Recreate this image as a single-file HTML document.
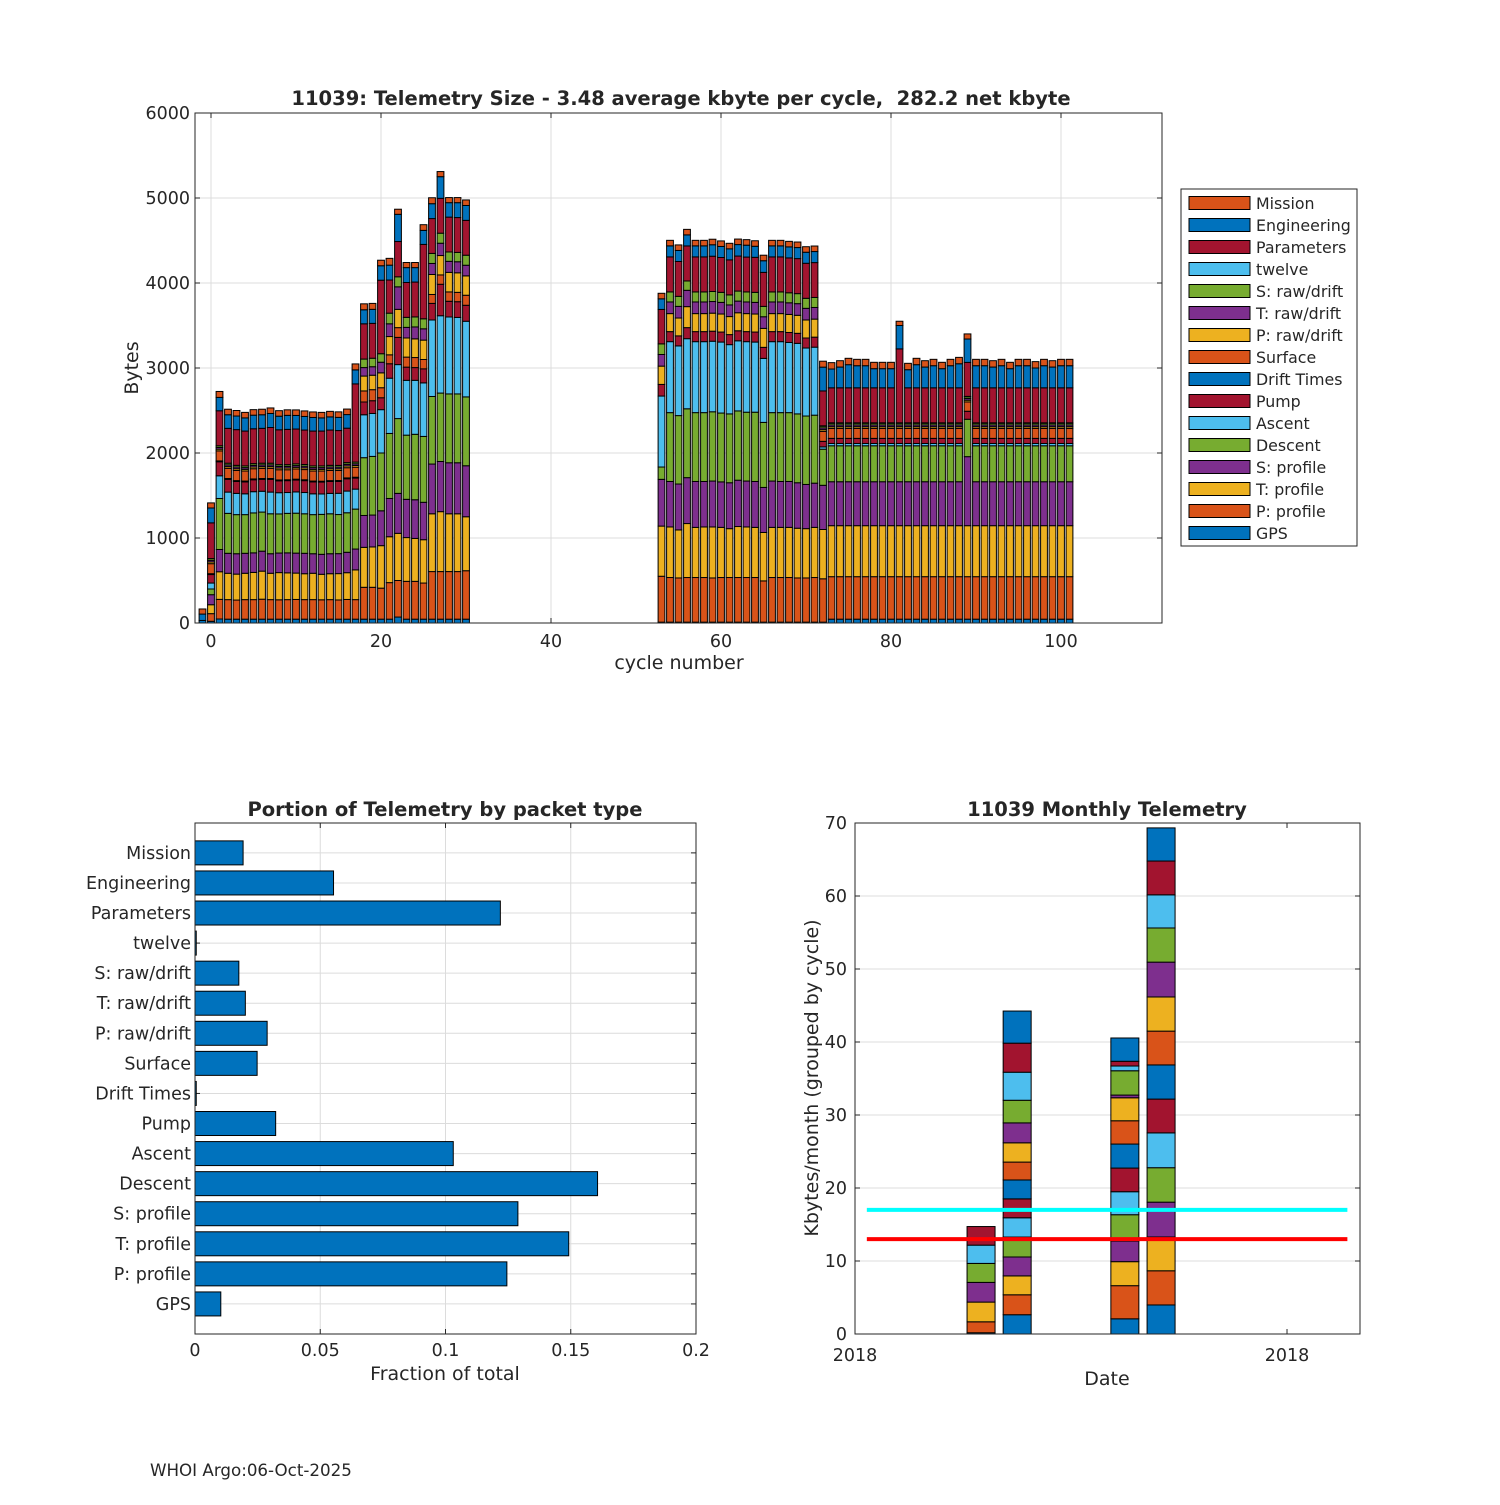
<!DOCTYPE html>
<html><head><meta charset="utf-8"><style>
html,body{margin:0;padding:0;background:#fff}
svg text{font-family:"DejaVu Sans","Liberation Sans",sans-serif;fill:#262626}
</style></head><body>
<svg id="fig" xmlns="http://www.w3.org/2000/svg" width="1500" height="1500" viewBox="0 0 1500 1500">
<rect x="0" y="0" width="1500" height="1500" fill="#fff"/>
<g id="top"></g>
<g id="bl"></g>
<g id="br"></g>
<text x="150" y="1476" font-size="16.7">WHOI Argo:06-Oct-2025</text>
</svg>
<script>
// ---------- TOP CHART DATA ----------
const cycles = [-1,0,1,2,3,4,5,6,7,8,9,10,11,12,13,14,15,16,17,18,19,20,21,22,23,24,25,26,27,28,29,30,
53,54,55,56,57,58,59,60,61,62,63,64,65,66,67,68,69,70,71,
72,73,74,75,76,77,78,79,80,81,82,83,84,85,86,87,88,89,90,91,92,93,94,95,96,97,98,99,100,101];
const seriesNames = ["GPS","P: profile","T: profile","S: profile","Descent","Ascent","Pump","Drift Times","Surface","P: raw/drift","T: raw/drift","S: raw/drift","twelve","Parameters","Engineering","Mission"];
const seriesColors = ["#0072BD","#D95319","#EDB120","#7E2F8E","#77AC30","#4DBEEE","#A2142F","#0072BD","#D95319","#EDB120","#7E2F8E","#77AC30","#4DBEEE","#A2142F","#0072BD","#D95319"];
const gps = [30,20,47,45,45,45,45,45,45,45,45,45,45,45,45,45,45,45,45,45,45,45,45,70,45,45,45,45,45,45,45,45,
10,10,10,10,10,10,10,10,10,10,10,10,10,10,10,10,10,10,10,
10,45,45,45,45,45,45,45,45,45,45,45,45,45,45,45,45,45,45,45,45,45,45,45,45,45,45,45,45,45];
const pProfile = [0,90,231,230,225,230,230,235,230,228,230,232,230,230,228,230,226,232,230,375,375,365,430,430,445,445,425,560,560,560,560,570,
540,525,520,525,525,525,520,525,525,525,525,525,485,525,525,525,520,520,525,
510,500,500,500,500,500,500,500,500,500,500,500,500,500,500,500,500,500,500,500,500,500,500,500,500,500,500,500,500,500];
const tProfile = [0,105,325,310,305,310,320,330,310,320,315,310,305,310,300,305,310,315,350,470,475,500,540,555,515,505,510,680,705,680,680,635,
590,595,565,635,590,595,600,590,575,600,595,590,570,590,590,590,585,580,590,
580,600,600,600,600,600,600,600,600,600,600,600,600,600,600,600,600,600,600,600,600,600,600,600,600,600,600,600,600,600];
const sProfile = [0,118,262,235,240,235,230,235,230,230,235,235,240,230,235,235,235,240,245,375,375,410,450,470,450,455,440,585,590,600,600,600,
550,535,540,540,540,535,540,535,540,545,540,540,530,545,540,540,535,520,520,
520,517,517,517,517,517,517,517,517,517,517,517,517,517,517,517,517,812,517,517,517,517,517,517,517,517,517,517,517,517];
const descent = [0,67,600,470,460,455,470,460,470,460,465,470,465,460,470,470,460,465,470,680,690,680,765,880,755,770,775,795,805,810,810,810,
145,810,805,810,810,810,815,810,810,815,810,815,765,805,810,810,810,805,800,
425,423,423,423,423,423,423,423,423,423,423,423,423,423,423,423,423,440,423,423,423,423,423,423,423,423,423,423,423,423];
const ascent = [0,70,267,250,250,245,250,245,255,250,245,250,250,245,240,240,250,255,235,505,505,510,650,635,645,635,630,900,910,905,900,890,
835,835,820,825,835,835,830,835,815,825,830,825,753,835,835,825,830,800,800,
27,27,27,27,27,27,27,27,27,27,27,27,27,27,27,27,27,0,27,27,27,27,27,27,27,27,27,27,27,27];
const pump = [0,100,165,150,140,140,140,140,150,140,140,140,140,140,140,140,140,145,130,150,150,140,170,320,155,150,165,195,370,185,185,188,
137,118,118,130,118,118,118,118,118,118,118,118,130,118,118,118,118,118,118,
65,60,60,60,60,60,60,60,60,60,60,60,60,60,60,60,60,94,60,60,60,60,60,60,60,60,60,60,60,60];
const driftTimes = [0,10,10,10,10,10,10,10,10,10,10,10,10,10,10,10,10,10,10,0,0,0,0,0,0,0,0,0,0,0,0,0,
0,0,0,0,0,0,0,0,0,0,0,0,0,0,0,0,0,0,0,
0,0,0,0,0,0,0,0,0,0,0,0,0,0,0,0,0,0,0,0,0,0,0,0,0,0,0,0,0,0];
const surface = [0,118,118,120,120,118,120,120,120,120,118,120,120,118,120,120,118,120,118,130,130,118,105,115,118,118,110,105,110,110,110,118,
0,0,0,0,0,0,0,0,0,0,0,0,0,0,0,0,0,0,0,
118,118,118,118,118,118,118,118,118,118,118,118,118,118,118,118,118,110,118,118,118,118,118,118,118,118,118,118,118,118];
const pRaw = [0,20,20,20,20,20,20,20,20,20,20,20,20,20,20,20,20,20,20,175,170,175,215,215,225,220,228,235,228,230,230,228,
215,212,210,247,212,212,212,212,212,212,212,212,223,212,212,212,212,212,212,
20,20,20,20,20,20,20,20,20,20,20,20,20,20,20,20,20,20,20,20,20,20,20,20,20,20,20,20,20,20];
const tRaw = [0,20,20,20,20,20,20,20,20,20,20,20,20,20,20,20,20,20,20,100,100,125,150,265,125,140,133,130,145,130,130,125,
137,137,137,192,137,137,137,137,137,137,137,137,137,137,137,137,137,137,137,
20,20,20,20,20,20,20,20,20,20,20,20,20,20,20,20,20,20,20,20,20,20,20,20,20,20,20,20,20,20];
const sRaw = [0,20,20,20,20,20,20,20,20,20,20,20,20,20,20,20,20,20,20,100,100,100,125,118,118,118,118,118,118,110,110,118,
125,118,118,110,118,118,118,118,118,118,118,118,122,118,118,118,118,118,118,
20,20,20,20,20,20,20,20,20,20,20,20,20,20,20,20,20,20,20,20,20,20,20,20,20,20,20,20,20,20];
const twelve = [0,0,0,0,0,0,0,0,0,0,0,0,0,0,0,0,0,0,0,0,0,0,0,0,0,0,0,0,0,0,0,0,
0,0,0,0,0,0,0,0,0,0,0,0,0,0,0,0,0,0,0,
5,5,5,5,5,5,5,5,5,5,5,5,5,5,5,5,5,5,5,5,5,5,5,5,5,5,5,5,5,5];
const parameters = [0,420,412,410,420,410,410,410,420,410,415,410,405,410,410,415,410,405,920,415,410,865,390,415,410,410,875,410,410,410,410,410,
405,412,410,412,412,412,415,410,412,412,410,412,400,412,412,410,412,412,410,
410,412,412,412,412,412,412,412,412,870,412,412,412,412,412,412,412,400,412,412,412,412,412,412,412,412,412,412,412,412];
const engineering = [75,175,157,160,160,155,160,160,165,160,165,160,160,160,155,155,155,160,165,165,165,170,175,320,175,170,165,175,255,170,175,175,
125,130,130,130,130,130,135,130,130,135,140,130,137,130,130,130,130,130,130,
280,221,244,272,260,260,225,225,225,275,213,272,244,260,225,260,283,275,260,260,244,260,225,260,260,233,260,244,260,260];
const mission = [60,60,70,65,65,65,65,65,65,65,65,65,65,65,65,65,65,65,70,70,70,65,80,60,60,60,67,70,60,60,60,65,
65,65,65,65,65,65,65,65,65,65,65,65,65,65,65,65,65,65,65,
70,75,75,75,75,75,75,75,75,50,75,75,75,75,75,75,75,60,75,75,75,75,75,75,75,75,75,75,75,75];
const stackSeries = [gps,pProfile,tProfile,sProfile,descent,ascent,pump,driftTimes,surface,pRaw,tRaw,sRaw,twelve,parameters,engineering,mission];
const topYTicks = [0,1000,2000,3000,4000,5000,6000];
const topXTicks = [0,20,40,60,80,100];

// ---------- BOTTOM LEFT DATA ----------
const packetTypes = ["GPS","P: profile","T: profile","S: profile","Descent","Ascent","Pump","Drift Times","Surface","P: raw/drift","T: raw/drift","S: raw/drift","twelve","Parameters","Engineering","Mission"];
const fractions = [0.0103,0.1245,0.1492,0.1289,0.1607,0.1031,0.0322,0.0005,0.0248,0.0288,0.0201,0.0175,0.0005,0.1219,0.0553,0.0192];
const fracTicks = [0,0.05,0.1,0.15,0.2];
const fracTickLabels = ["0","0.05","0.1","0.15","0.2"];

// ---------- BOTTOM RIGHT DATA ----------
const monthDays = [106.5,137,228,258.6];
const monthSegments = [
 [0.17,1.5,2.7,2.7,2.6,2.5,2.55],
 [2.64,2.73,2.59,2.59,2.73,2.64,2.59,2.59,2.45,2.64,2.73,3.10,3.84,3.98,4.40],
 [2.08,4.54,3.29,2.82,3.61,3.15,3.24,3.29,3.19,3.15,0.37,3.33,0.65,0.65,3.19],
 [3.98,4.68,4.63,4.77,4.72,4.77,4.63,4.68,4.63,4.68,4.77,4.68,4.54,4.63,4.54]
];
const segColors = ["#0072BD","#D95319","#EDB120","#7E2F8E","#77AC30","#4DBEEE","#A2142F"];
const monthlyYTicks = [0,10,20,30,40,50,60,70];
const dateTicks = [0,365];
const dateTickLabels = ["2018","2018"];
const meanLine = [17];
const medianLine = [13];

const NS="http://www.w3.org/2000/svg";
const TF=17.5, TT=19.5, AT=19;
function mk(parent,tag,attrs,text){const e=document.createElementNS(NS,tag);for(const k in attrs)e.setAttribute(k,attrs[k]);if(text!==undefined)e.textContent=text;parent.appendChild(e);return e;}

// ---------- TOP ----------
(function(){
 const g=document.getElementById('top');
 const L=195,R=1162,T=113,B=623;
 const xs=c=>211+c*8.5, ys=v=>B-v*0.085;
 mk(g,'rect',{x:L,y:T,width:R-L,height:B-T,fill:'#fff'});
 topYTicks.forEach(v=>{const y=ys(v);
  const ln=mk(g,'line',{x1:L,x2:R,y1:y,y2:y,stroke:'#dcdcdc','stroke-width':1});
  
  mk(g,'line',{x1:L,x2:L+5,y1:y,y2:y,stroke:'#262626'});mk(g,'line',{x1:R,x2:R-5,y1:y,y2:y,stroke:'#262626'});
  const t=mk(g,'text',{x:L-5,y:y+6,'font-size':TF,'text-anchor':'end'},String(v));
  });
 topXTicks.forEach(v=>{const x=xs(v);
  const ln=mk(g,'line',{x1:x,x2:x,y1:T,y2:B,stroke:'#dcdcdc','stroke-width':1});
  
  mk(g,'line',{x1:x,x2:x,y1:B,y2:B-5,stroke:'#262626'});mk(g,'line',{x1:x,x2:x,y1:T,y2:T+5,stroke:'#262626'});
  const t=mk(g,'text',{x:x,y:B+24,'font-size':TF,'text-anchor':'middle'},String(v));
  });
 const bw=6.8;
 cycles.forEach((c,i)=>{let acc=0;
  stackSeries.forEach((s,k)=>{const v=s[i];if(v<=0)return;
   const r=mk(g,'rect',{x:xs(c)-bw/2,y:ys(acc+v),width:bw,height:v*0.085,fill:seriesColors[k],stroke:'#000','stroke-width':1});
   
   acc+=v;});});
 mk(g,'rect',{x:L,y:T,width:R-L,height:B-T,fill:'none',stroke:'#262626','stroke-width':1});
 const ti=mk(g,'text',{x:681,y:105,'font-size':TT,'font-weight':'bold','text-anchor':'middle'},'11039: Telemetry Size - 3.48 average kbyte per cycle,  282.2 net kbyte');
 ti.style.whiteSpace='pre';
 const xl=mk(g,'text',{x:679,y:669,'font-size':AT,'text-anchor':'middle'},'cycle number');
 
 const yl=mk(g,'text',{x:138,y:368,'font-size':AT,'text-anchor':'middle',transform:'rotate(-90 138 368)'},'Bytes');
 
 const lg=mk(g,'g',{});
 
 mk(lg,'rect',{x:1181,y:189,width:176,height:357,fill:'#fff',stroke:'#262626','stroke-width':1});
 for(let i=0;i<16;i++){const k=15-i;const cy=203+22*i;
  const e=mk(lg,'g',{});
  
  mk(e,'rect',{x:1189,y:cy-6.5,width:61,height:13,fill:seriesColors[k],stroke:'#000','stroke-width':1});
  mk(e,'text',{x:1256,y:cy+6,'font-size':15.8},seriesNames[k]);}
})();

// ---------- BOTTOM LEFT ----------
(function(){
 const g=document.getElementById('bl');
 const L=195,R=696,T=823,B=1334;
 const xs=v=>L+v/0.2*(R-L), ys=k=>B-k*30.07;
 fracTicks.forEach((v,i)=>{const x=xs(v);
  const ln=mk(g,'line',{x1:x,x2:x,y1:T,y2:B,stroke:'#dcdcdc'});
  
  mk(g,'line',{x1:x,x2:x,y1:B,y2:B-5,stroke:'#262626'});mk(g,'line',{x1:x,x2:x,y1:T,y2:T+5,stroke:'#262626'});
  const t=mk(g,'text',{x:x,y:B+22,'font-size':TF,'text-anchor':'middle'},fracTickLabels[i]);
  });
 packetTypes.forEach((n,i)=>{const y=ys(i+1);
  const ln=mk(g,'line',{x1:L,x2:R,y1:y,y2:y,stroke:'#dcdcdc'});
  
  mk(g,'line',{x1:L,x2:L+5,y1:y,y2:y,stroke:'#262626'});mk(g,'line',{x1:R,x2:R-5,y1:y,y2:y,stroke:'#262626'});
  const t=mk(g,'text',{x:L-4,y:y+6,'font-size':TF,'text-anchor':'end'},n);
  });
 fractions.forEach((v,i)=>{const y=ys(i+1);
  const r=mk(g,'rect',{x:L,y:y-12,width:xs(v)-L,height:24,fill:'#0072BD',stroke:'#000','stroke-width':1});
  });
 mk(g,'rect',{x:L,y:T,width:R-L,height:B-T,fill:'none',stroke:'#262626'});
 const ti=mk(g,'text',{x:445,y:816,'font-size':TT,'font-weight':'bold','text-anchor':'middle'},'Portion of Telemetry by packet type');
 
 const xl=mk(g,'text',{x:445,y:1380,'font-size':AT,'text-anchor':'middle'},'Fraction of total');
 
})();

// ---------- BOTTOM RIGHT ----------
(function(){
 const g=document.getElementById('br');
 const L=855,R=1360,T=823,B=1334;
 const xs=d=>L+d*1.1836, ys=v=>B-v*7.3;
 monthlyYTicks.forEach(v=>{const y=ys(v);
  const ln=mk(g,'line',{x1:L,x2:R,y1:y,y2:y,stroke:'#dcdcdc'});
  
  mk(g,'line',{x1:L,x2:L+5,y1:y,y2:y,stroke:'#262626'});mk(g,'line',{x1:R,x2:R-5,y1:y,y2:y,stroke:'#262626'});
  const t=mk(g,'text',{x:L-8,y:y+6,'font-size':TF,'text-anchor':'end'},String(v));
  });
 dateTicks.forEach((d,i)=>{const x=xs(d);
  mk(g,'line',{x1:x,x2:x,y1:B,y2:B-5,stroke:'#262626'});mk(g,'line',{x1:x,x2:x,y1:T,y2:T+5,stroke:'#262626'});
  const t=mk(g,'text',{x:x,y:B+27,'font-size':TF,'text-anchor':'middle'},dateTickLabels[i]);
  });
 const bw=28;
 monthDays.forEach((d,m)=>{let acc=0;
  monthSegments[m].forEach((v,j)=>{
   const r=mk(g,'rect',{x:xs(d)-bw/2,y:ys(acc+v),width:bw,height:v*7.3,fill:segColors[j%7],stroke:'#000','stroke-width':1});
   
   acc+=v;});});
 const d0=10,d1=416;
 const c=mk(g,'line',{x1:xs(d0),x2:xs(d1),y1:ys(meanLine[0]),y2:ys(meanLine[0]),stroke:'#00FFFF','stroke-width':4});
 
 const r=mk(g,'line',{x1:xs(d0),x2:xs(d1),y1:ys(medianLine[0]),y2:ys(medianLine[0]),stroke:'#FF0000','stroke-width':4});
 
 mk(g,'rect',{x:L,y:T,width:R-L,height:B-T,fill:'none',stroke:'#262626'});
 const ti=mk(g,'text',{x:1107,y:816,'font-size':TT,'font-weight':'bold','text-anchor':'middle'},'11039 Monthly Telemetry');
 
 const xl=mk(g,'text',{x:1107,y:1385,'font-size':AT,'text-anchor':'middle'},'Date');
 
 const yl=mk(g,'text',{x:818,y:1078,'font-size':AT,'text-anchor':'middle',transform:'rotate(-90 818 1078)'},'Kbytes/month (grouped by cycle)');
 
})();
</script>
</body></html>
